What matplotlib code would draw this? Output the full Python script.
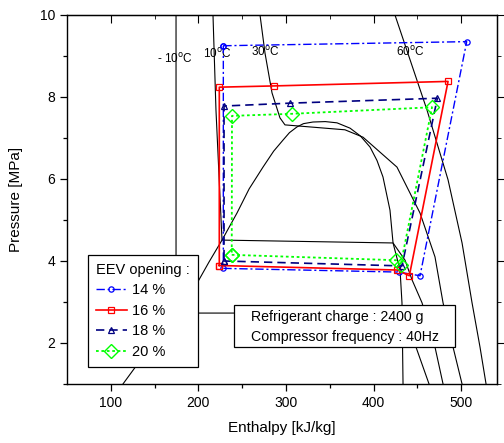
import numpy as np
import matplotlib
matplotlib.use('Agg')
import matplotlib.pyplot as plt
from matplotlib.patches import Rectangle

plt.rcParams['font.family'] = ['Liberation Sans', 'DejaVu Sans']

# cycle data: enthalpy [kJ/kg], pressure [MPa]
h14 = [228.5, 506.4, 453.1, 429.0, 228.5, 228.5]
p14 = [9.25, 9.35, 3.64, 3.73, 3.82, 9.25]
h16 = [223.9, 427.2, 440.9, 485.1, 286.0, 223.9, 223.9]
p16 = [3.89, 3.78, 3.64, 8.38, 8.27, 8.24, 3.89]
h18 = [229.3, 432.5, 472.9, 305.0, 229.3, 229.3]
p18 = [4.00, 3.88, 7.97, 7.85, 7.78, 4.00]
h20 = [238.1, 425.7, 431.0, 466.8, 306.6, 238.4, 238.1]
p20 = [4.15, 4.02, 3.90, 7.75, 7.59, 7.54, 4.15]
labels = ['14 %', '16 %', '18 %', '20 %']

# saturation dome and isotherms (CO2)
dome_h = [113.9, 155.0, 196.2, 212.0, 227.0, 244.1, 258.0, 273.8, 286.0, 296.7, 304.0,
          312.6, 320.0, 330.9, 345.0, 358.3, 373.2, 385.0, 396.0, 404.0, 410.8, 418.8,
          422.3, 430.3, 432.5, 433.7]
dome_p = [1.00, 2.20, 3.37, 3.97, 4.51, 5.17, 5.76, 6.29, 6.68, 6.95, 7.13,
          7.27, 7.35, 7.39, 7.40, 7.37, 7.24, 7.05, 6.78, 6.45, 6.05, 5.24,
          4.44, 3.78, 2.98, 1.00]
t_m10_h = [174.5, 174.5, 432.5, 448.5, 463.4]
t_m10_p = [10.0, 2.73, 2.73, 1.90, 1.00]
t_10_h = [216.7, 220.1, 227.0, 422.3, 436.0, 444.0, 455.4, 470.2, 479.4]
t_10_p = [10.0, 7.68, 4.51, 4.44, 4.02, 3.54, 2.98, 1.90, 1.00]
t_30_h = [270.4, 276.1, 284.1, 293.2, 298.9, 367.4, 388.0, 426.8, 453.1, 470.2,
          479.4, 490.8, 501.1]
t_30_p = [10.0, 9.07, 8.10, 7.49, 7.32, 7.20, 7.02, 6.29, 5.17, 4.10,
          2.98, 1.90, 1.00]
t_60_h = [424.5, 461.1, 485.1, 501.1, 512.5, 521.6, 528.5]
t_60_p = [10.0, 7.68, 5.98, 4.44, 2.98, 1.90, 1.00]
iso_labels = ['- 10$^{\\rm o}$C', '10$^{\\rm o}$C', '30$^{\\rm o}$C', '60$^{\\rm o}$C']
iso_label_h = [173.3, 221.3, 276.1, 441.7]
iso_label_p = [8.93, 9.05, 9.10, 9.10]

fig = plt.figure(figsize=(5.04, 4.43), dpi=100)
ax = fig.add_axes([67 / 504, 59 / 443, 430 / 504, 369 / 443])

for hh, pp in [(dome_h, dome_p), (t_m10_h, t_m10_p), (t_10_h, t_10_p),
               (t_30_h, t_30_p), (t_60_h, t_60_p)]:
    ax.plot(hh, pp, color='black', lw=0.8, zorder=1)

for lab, x, y in zip(iso_labels, iso_label_h, iso_label_p):
    ax.text(x, y, lab, fontsize=8.5, ha='center', va='center', zorder=2)

l1, = ax.plot(h14, p14, color='#0000ff', ls=(0, (6, 2, 1.5, 2)), lw=1.0, marker='o',
              ms=3.8, mfc='none', mew=0.9, zorder=3)
l2, = ax.plot(h16, p16, color='#ff0000', ls='-', lw=1.2, marker='s',
              ms=3.8, mfc='none', mew=0.9, zorder=3)
l3, = ax.plot(h18, p18, color='#000080', ls=(0, (5, 3)), lw=1.2, marker='^',
              ms=4.2, mfc='none', mew=0.9, zorder=3)
l4, = ax.plot(h20, p20, color='#00ff00', ls=(0, (1.5, 1.5)), lw=1.3, marker='D',
              ms=7, mfc='none', mew=1.0, zorder=3)

ax.set_xlim(50, 541)
ax.set_ylim(1, 10)
ax.set_xticks([100, 200, 300, 400, 500])
ax.set_xticks([150, 250, 350, 450], minor=True)
ax.set_yticks([2, 4, 6, 8, 10])
ax.set_yticks([1, 3, 5, 7, 9], minor=True)
ax.tick_params(which='both', direction='out', labelsize=10, width=0.9)
ax.tick_params(which='major', length=5)
ax.tick_params(which='minor', length=3)
for s in ax.spines.values():
    s.set_linewidth(1.0)

top = ax.secondary_xaxis('top')
top.set_xticks([100, 200, 300, 400, 500])
top.set_xticks([150, 250, 350, 450], minor=True)
top.tick_params(which='both', direction='in', labeltop=False)
top.tick_params(which='major', length=6)
top.tick_params(which='minor', length=3)
right = ax.secondary_yaxis('right')
right.set_yticks([2, 4, 6, 8, 10])
right.set_yticks([1, 3, 5, 7, 9], minor=True)
right.tick_params(which='both', direction='out', labelright=False)
right.tick_params(which='major', length=5)
right.tick_params(which='minor', length=3)

ax.set_xlabel('Enthalpy [kJ/kg]', fontsize=11, labelpad=8)
ax.set_ylabel('Pressure [MPa]', fontsize=11, labelpad=12)

leg = ax.legend([l1, l2, l3, l4], labels, title='EEV opening :', loc='lower left',
                bbox_to_anchor=(0.049, 0.046), borderaxespad=0, fontsize=10.5,
                title_fontsize=10.5, frameon=True, fancybox=False, framealpha=1,
                edgecolor='black', handlelength=2.1, handletextpad=0.35,
                labelspacing=0.45, borderpad=0.55, alignment='left')
leg.get_frame().set_linewidth(0.9)
leg.set_zorder(6)

ax.add_patch(Rectangle((0.388, 0.100), 0.514, 0.114, transform=ax.transAxes,
                       facecolor='white', edgecolor='black', lw=0.9, zorder=5))
ax.text(0.428, 0.182, 'Refrigerant charge : 2400 g', transform=ax.transAxes,
        fontsize=10.2, va='center', ha='left', zorder=6)
ax.text(0.428, 0.127, 'Compressor frequency : 40Hz', transform=ax.transAxes,
        fontsize=10.2, va='center', ha='left', zorder=6)

fig.savefig('out.png', dpi=100)
